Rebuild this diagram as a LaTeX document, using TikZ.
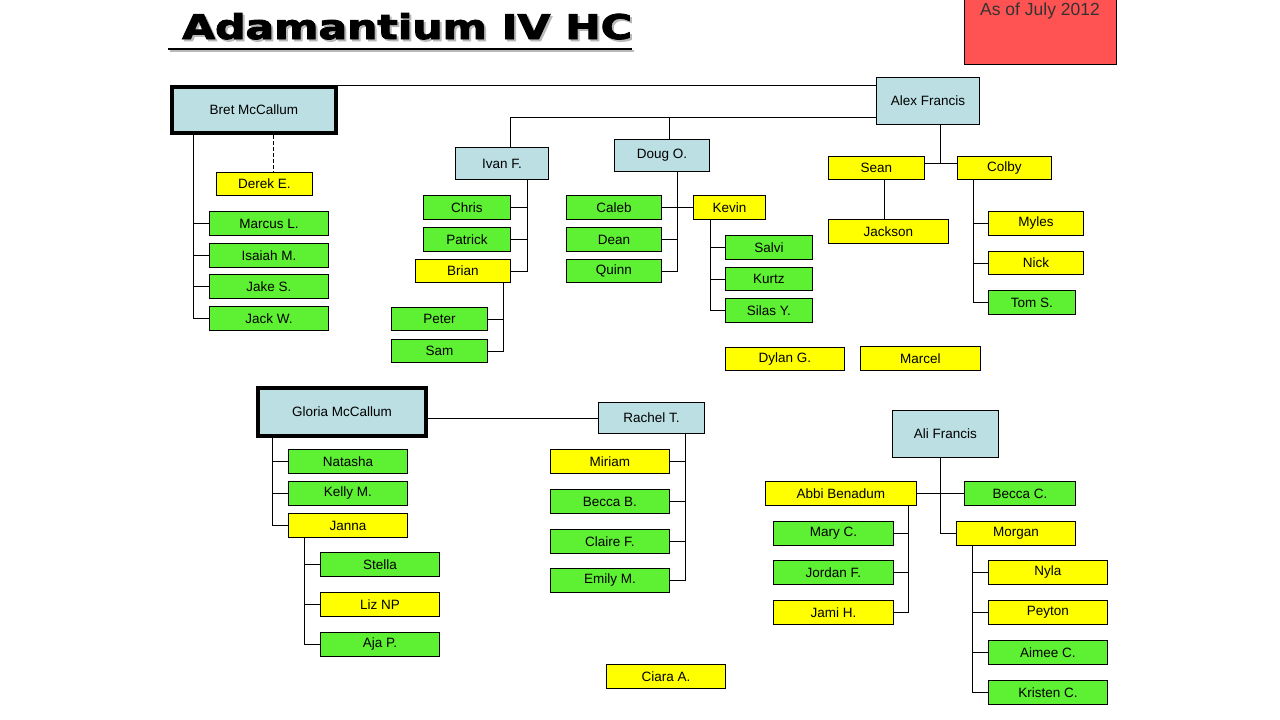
\documentclass[tikz,border=0pt]{standalone}
\usepackage{fontspec}
\setmainfont{Liberation Sans}
\newfontfamily\titlefont[FakeBold=2.6]{DejaVu Sans}

\definecolor{boxblue}{HTML}{BBDFE3}
\definecolor{boxgreen}{HTML}{5EF032}
\definecolor{boxyellow}{HTML}{FFFF00}
\definecolor{boxred}{HTML}{FF5252}

\begin{document}
\begin{tikzpicture}[
    x=1pt, y=-1pt,
    font=\fontsize{13.5}{16}\selectfont,
    member/.style={draw, line width=0.9pt, inner sep=0pt, anchor=north west, minimum height=24},
    staff/.style={member, fill=boxblue, minimum width=#1},
    senior/.style={member, fill=boxyellow, minimum width=#1},
    junior/.style={member, fill=boxgreen, minimum width=#1},
    head/.style={staff=#1, line width=4pt},
    link/.style={line width=0.9pt},
    headline/.style={anchor=base west, inner sep=0pt, font=\titlefont\bfseries\fontsize{34}{40}\selectfont}
  ]

    % --- Frame ---
    \useasboundingbox (0,0) rectangle (1280,720);

    % --- Title ---
    \node[headline, text=gray!55] (titleShadow) at (184,41) {\scalebox{1.25}[1]{Adamantium IV HC}};
    \draw[line width=2.5pt, gray!55] ([xshift=-14pt, yshift=-10pt]titleShadow.base west) -- ([yshift=-10pt]titleShadow.base east);
    \node[headline] (title) at (182,39) {\scalebox{1.25}[1]{Adamantium IV HC}};
    \draw[line width=2.5pt] ([xshift=-14pt, yshift=-10pt]title.base west) -- ([yshift=-10pt]title.base east);

    % --- Date tag ---
    \node[draw, line width=0.9pt, fill=boxred, inner sep=0pt, anchor=north west,
          minimum width=152, minimum height=70] (asof) at (964,-6) {};
    \node[anchor=base, font=\fontsize{17.5}{20}\selectfont, text=black!80] (asofText) at (1040,15) {As of July 2012};

    % --- Upper chart: heads ---
    \node[head=164, minimum height=46] (Bret) at (170,85) {Bret McCallum};
    \node[staff=103, minimum height=47] (AlexF) at (876,77) {Alex Francis};
    \node[staff=93, minimum height=32] (IvanF) at (455,147) {Ivan F.};
    \node[staff=95, minimum height=32] (DougO) at (614,139) {Doug O.};

    % --- Bret's group ---
    \node[senior=96, minimum height=23] (DerekE) at (216,172) {Derek E.};
    \node[junior=119] (MarcusL) at (209,211) {Marcus L.};
    \node[junior=119] (IsaiahM) at (209,243) {Isaiah M.};
    \node[junior=119] (JakeS) at (209,274) {Jake S.};
    \node[junior=119] (JackW) at (209,306) {Jack W.};

    % --- Ivan's group ---
    \node[junior=87] (Chris) at (423,195) {Chris};
    \node[junior=87] (Patrick) at (423,227) {Patrick};
    \node[senior=95, minimum height=23] (Brian) at (415,259) {Brian};
    \node[junior=96, minimum height=23] (Peter) at (391,307) {Peter};
    \node[junior=96, minimum height=23] (Sam) at (391,339) {Sam};

    % --- Doug's group ---
    \node[junior=95] (Caleb) at (566,195) {Caleb};
    \node[junior=95] (Dean) at (566,227) {Dean};
    \node[junior=95, minimum height=23] (Quinn) at (566,259) {Quinn};
    \node[senior=72] (Kevin) at (693,195) {Kevin};
    \node[junior=87] (Salvi) at (725,235) {Salvi};
    \node[junior=87, minimum height=23] (Kurtz) at (725,267) {Kurtz};
    \node[junior=87] (SilasY) at (725,298) {Silas Y.};
    \node[senior=119, minimum height=23] (DylanG) at (725,347) {Dylan G.};

    % --- Alex's group ---
    \node[senior=96, minimum height=23] (SeanB) at (828,156) {Sean};
    \node[senior=94, minimum height=23] (ColbyB) at (957,156) {Colby};
    \node[senior=120] (Jackson) at (828,219) {Jackson};
    \node[senior=95] (Myles) at (988,211) {Myles};
    \node[senior=95, minimum height=23] (Nick) at (988,251) {Nick};
    \node[junior=87] (TomS) at (988,290) {Tom S.};
    \node[senior=120] (Marcel) at (860,346) {Marcel};

    % --- Lower chart: heads ---
    \node[head=168, minimum height=48] (Gloria) at (256,386) {Gloria McCallum};
    \node[staff=106, minimum height=31] (RachelT) at (598,402) {Rachel T.};
    \node[staff=106, minimum height=47] (AliF) at (892,410) {Ali Francis};

    % --- Gloria's group ---
    \node[junior=119] (Natasha) at (288,449) {Natasha};
    \node[junior=119] (KellyM) at (288,481) {Kelly M.};
    \node[senior=119] (Janna) at (288,513) {Janna};
    \node[junior=119] (Stella) at (320,552) {Stella};
    \node[senior=119] (LizNP) at (320,592) {Liz NP};
    \node[junior=119] (AjaP) at (320,632) {Aja P.};

    % --- Rachel's group ---
    \node[senior=119] (Miriam) at (550,449) {Miriam};
    \node[junior=119] (BeccaB) at (550,489) {Becca B.};
    \node[junior=119] (ClaireF) at (550,529) {Claire F.};
    \node[junior=119] (EmilyM) at (550,568) {Emily M.};
    \node[senior=119] (CiaraA) at (606,664) {Ciara A.};

    % --- Ali's group ---
    \node[senior=151] (Abbi) at (765,481) {Abbi Benadum};
    \node[junior=111] (BeccaC) at (964,481) {Becca C.};
    \node[senior=119] (Morgan) at (956,521) {Morgan};
    \node[junior=120] (MaryC) at (773,521) {Mary C.};
    \node[junior=120] (JordanF) at (773,560) {Jordan F.};
    \node[senior=120] (JamiH) at (773,600) {Jami H.};
    \node[senior=119] (Nyla) at (988,560) {Nyla};
    \node[senior=119] (Peyton) at (988,600) {Peyton};
    \node[junior=119] (AimeeC) at (988,640) {Aimee C.};
    \node[junior=119] (KristenC) at (988,680) {Kristen C.};

    % --- Trunk positions ---
    \coordinate (ivanDrop) at (510,117);
    \coordinate (dougDrop) at (669,117);
    \coordinate (alexDrop) at (940,163);
    \coordinate (seanDrop) at (884,0);
    \coordinate (colbyTrunk) at (973,0);
    \coordinate (ivanTrunk) at (527,0);
    \coordinate (brianTrunk) at (503,0);
    \coordinate (dougTrunk) at (677,0);
    \coordinate (kevinTrunk) at (710,0);
    \coordinate (bretTrunk) at (193,0);
    \coordinate (derekDrop) at (273,0);
    \coordinate (gloriaTrunk) at (272,0);
    \coordinate (jannaTrunk) at (304,0);
    \coordinate (rachelTrunk) at (685,0);
    \coordinate (aliTrunk) at (940,0);
    \coordinate (abbiTrunk) at (908,0);
    \coordinate (morganTrunk) at (972,0);

    % --- Upper connectors ---
    \draw[link] (Bret.north east) -- (Bret.north east -| AlexF.west);
    \draw[link] (AlexF.west |- ivanDrop) -- (ivanDrop) -- (ivanDrop |- IvanF.north);
    \draw[link] (dougDrop) -- (dougDrop |- DougO.north);
    \draw[link] (alexDrop |- AlexF.south) -- (alexDrop);
    \draw[link] (SeanB.east |- alexDrop) -- (ColbyB.west |- alexDrop);
    \draw[link] (seanDrop |- SeanB.south) -- (seanDrop |- Jackson.north);
    \draw[link] (colbyTrunk |- ColbyB.south) |- (TomS.west);
    \foreach \n in {Myles,Nick}
      \draw[link] (colbyTrunk |- \n.west) -- (\n.west);

    \draw[link] (bretTrunk |- Bret.south) |- (JackW.west);
    \foreach \n in {MarcusL,IsaiahM,JakeS}
      \draw[link] (bretTrunk |- \n.west) -- (\n.west);
    \draw[link, dash pattern=on 4pt off 2pt] (derekDrop |- Bret.south) -- (derekDrop |- DerekE.north);

    \draw[link] (ivanTrunk |- IvanF.south) |- (Brian.east);
    \foreach \n in {Chris,Patrick}
      \draw[link] (ivanTrunk |- \n.east) -- (\n.east);
    \draw[link] (brianTrunk |- Brian.south) |- (Sam.east);
    \draw[link] (brianTrunk |- Peter.east) -- (Peter.east);

    \draw[link] (dougTrunk |- DougO.south) |- (Quinn.east);
    \draw[link] (Caleb.east) -- (Kevin.west);
    \draw[link] (dougTrunk |- Dean.east) -- (Dean.east);
    \draw[link] (kevinTrunk |- Kevin.south) |- (SilasY.west);
    \foreach \n in {Salvi,Kurtz}
      \draw[link] (kevinTrunk |- \n.west) -- (\n.west);

    % --- Lower connectors ---
    \draw[link] (Gloria.east |- RachelT.west) -- (RachelT.west);
    \draw[link] (gloriaTrunk |- Gloria.south) |- (Janna.west);
    \foreach \n in {Natasha,KellyM}
      \draw[link] (gloriaTrunk |- \n.west) -- (\n.west);
    \draw[link] (jannaTrunk |- Janna.south) |- (AjaP.west);
    \foreach \n in {Stella,LizNP}
      \draw[link] (jannaTrunk |- \n.west) -- (\n.west);

    \draw[link] (rachelTrunk |- RachelT.south) |- (EmilyM.east);
    \foreach \n in {Miriam,BeccaB,ClaireF}
      \draw[link] (rachelTrunk |- \n.east) -- (\n.east);

    \draw[link] (aliTrunk |- AliF.south) |- (Morgan.west);
    \draw[link] (Abbi.east) -- (BeccaC.west);
    \draw[link] (abbiTrunk |- Abbi.south) |- (JamiH.east);
    \foreach \n in {MaryC,JordanF}
      \draw[link] (abbiTrunk |- \n.east) -- (\n.east);
    \draw[link] (morganTrunk |- Morgan.south) |- (KristenC.west);
    \foreach \n in {Nyla,Peyton,AimeeC}
      \draw[link] (morganTrunk |- \n.west) -- (\n.west);

\end{tikzpicture}
\end{document}
